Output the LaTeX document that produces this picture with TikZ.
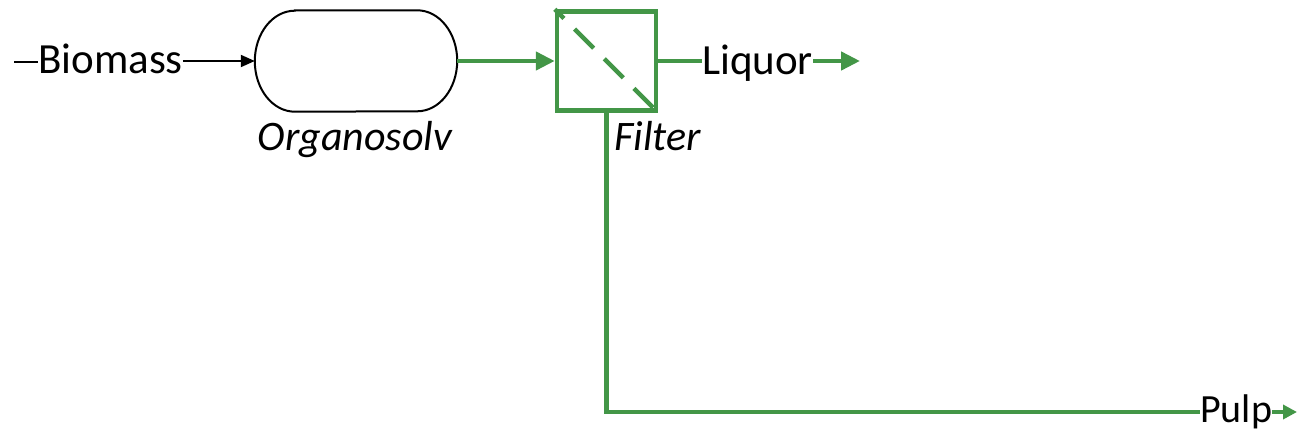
\documentclass[tikz,border=0pt]{standalone}
\usepackage{fontspec}
\setmainfont{Carlito}
\usetikzlibrary{arrows.meta}
\definecolor{pgreen}{RGB}{67,150,71}
\begin{document}
\begin{tikzpicture}[x=1pt,y=-1pt,
  lbl/.style={inner sep=0pt, font=\fontsize{43}{50}\selectfont},
  ilbl/.style={inner sep=0pt, font=\fontsize{42}{50}\selectfont\itshape},
  blk/.style={line width=2pt, draw=black},
  grn/.style={line width=4.5pt, draw=pgreen},
  garrow/.style={grn, -{Triangle[length=19pt,width=18pt]}},
  sgarrow/.style={grn, -{Triangle[length=14pt,width=14pt]}},
  barrow/.style={blk, -{Triangle[length=14pt,width=12pt]}}]
\useasboundingbox (0,0) rectangle (1297,433);
\coordinate (bstart) at (14,62);
\node[lbl, anchor=base west] (bio) at (38,74) {Biomass};
\node[minimum width=202pt, minimum height=101pt, inner sep=0pt] (org) at (356,61) {};
\draw[blk] ([xshift=40pt]org.north west) -- ([xshift=-40pt]org.north east)
  arc[start angle=90, end angle=-90, x radius=40pt, y radius=50.5pt]
  -- ([xshift=40pt]org.south west)
  arc[start angle=270, end angle=90, x radius=40pt, y radius=50.5pt] -- cycle;
\node[ilbl, anchor=base] (orglbl) at (355,150) {Organosolv};
\node[draw=pgreen, line width=4.5pt, minimum size=99pt, inner sep=0pt] (fil) at (606.5,61) {};
\draw[grn, dash pattern=on 27pt off 15pt, dash phase=14pt] (fil.north west) -- (fil.south east);
\node[ilbl, anchor=base west] (fillbl) at (614,150) {Filter};
\node[lbl, anchor=base west] (liq) at (702,75) {Liquor};
\coordinate (liqend) at (860,61);
\node[lbl, anchor=base west, font=\fontsize{40}{46}\selectfont] (pulp) at (1200,422) {Pulp};
\coordinate (pulpend) at (1297,412);
\draw[blk] (bstart) -- (bstart -| bio.west);
\draw[barrow] (bio.east |- org.west) -- (org.west);
\draw[garrow] (org.east) -- (fil.west);
\draw[grn] (fil.east) -- (liq.west |- fil.east);
\draw[garrow] (liq.east |- liqend) -- (liqend);
\draw[grn] (fil.south) |- (pulp.west |- pulpend);
\draw[sgarrow] (pulp.east |- pulpend) -- (pulpend);
\end{tikzpicture}
\end{document}
